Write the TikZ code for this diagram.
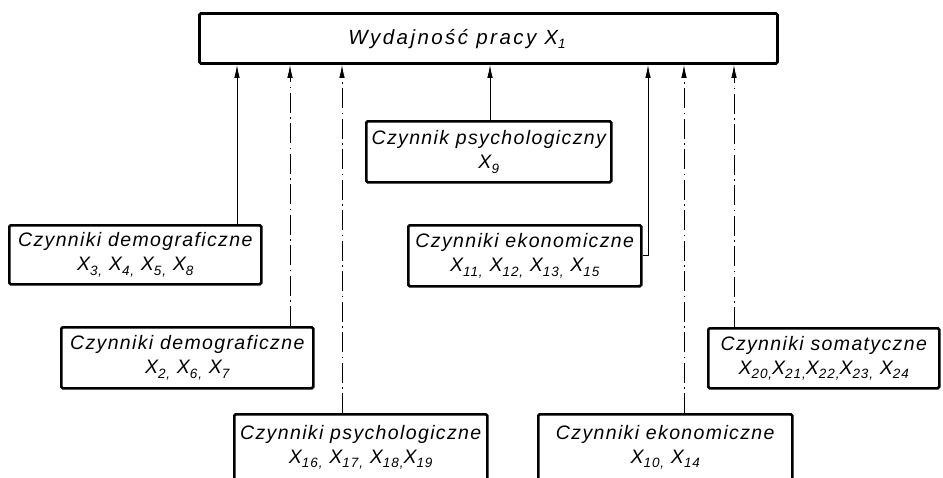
\documentclass[tikz,border=0pt]{standalone}
\usepackage{fontspec}
\setmainfont{Liberation Sans}[LetterSpace=7]
\usetikzlibrary{arrows.meta}
\newcommand{\xs}[1]{X\raisebox{-0.45ex}{\fontsize{13.5}{13.5}\selectfont #1}}
\begin{document}
\begin{tikzpicture}[x=1pt,y=-1pt,
  box/.style={draw, line width=2.5pt, rounded corners=1.5pt, inner sep=0pt,
    align=center, anchor=north west, font=\itshape\fontsize{19.5}{24}\selectfont},
  lbl/.style={inner sep=0pt, align=center,
    font=\itshape\fontsize{20.5}{24}\selectfont\addfontfeatures{LetterSpace=12}},
  conn/.style={line width=0.9pt, -{Latex[length=13pt,width=5.5pt]}},
  dd/.style={conn, dash pattern=on 20pt off 4.5pt on 1.5pt off 4.5pt}]
\useasboundingbox (0,0) rectangle (943,477);
\clip (0,0) rectangle (943,477);
% boxes
\node[box, line width=2.8pt, minimum width=578pt, minimum height=50pt] (top) at (198,12) {};
\node[lbl] (toptxt) at (457,39) {Wydajność pracy \xs{1}};
\node[box, minimum width=252pt, minimum height=59pt] (demo1) at (8,224)
  {Czynniki demograficzne\\\xs{3,} \xs{4,} \xs{5,} \xs{8}};
\node[box, minimum width=252pt, minimum height=61pt] (demo2) at (60,326)
  {Czynniki demograficzne\\\xs{2,} \xs{6,} \xs{7}};
\node[box, minimum width=245pt, minimum height=61pt] (psy1) at (365,120)
  {Czynnik psychologiczny\\\xs{9}};
\node[box, minimum width=233pt, minimum height=61pt] (eco1) at (407,224)
  {Czynniki ekonomiczne\\\xs{11,} \xs{12,} \xs{13,} \xs{15}};
\node[box, minimum width=231pt, minimum height=60pt] (soma) at (707,327)
  {Czynniki somatyczne\\\xs{20,}\xs{21,}\xs{22,}\xs{23,} \xs{24}};
\node[box, minimum width=253pt, minimum height=66pt] (psy2) at (233,413)
  {Czynniki psychologiczne\\\xs{16,} \xs{17,} \xs{18,}\xs{19}};
\node[box, minimum width=254pt, minimum height=66pt] (eco2) at (537,413)
  {Czynniki ekonomiczne\\\xs{10,} \xs{14}};
% arrow targets on the top box
\coordinate (a1) at (237,0 |- top.south);
\coordinate (a2) at (290,0 |- top.south);
\coordinate (a3) at (342,0 |- top.south);
\coordinate (a4) at (490,0 |- top.south);
\coordinate (a5) at (648,0 |- top.south);
\coordinate (a6) at (684,0 |- top.south);
\coordinate (a7) at (734,0 |- top.south);
% connectors
\draw[conn] (demo1.north -| a1) -- (a1);
\draw[dd] (demo2.north -| a2) -- (a2);
\draw[dd] (psy2.north -| a3) -- (a3);
\draw[conn] (psy1.north -| a4) -- (a4);
\draw[conn] (eco1.east) -| (a5);
\draw[dd] (eco2.north -| a6) -- (a6);
\draw[dd] (soma.north -| a7) -- (a7);
\end{tikzpicture}
\end{document}
